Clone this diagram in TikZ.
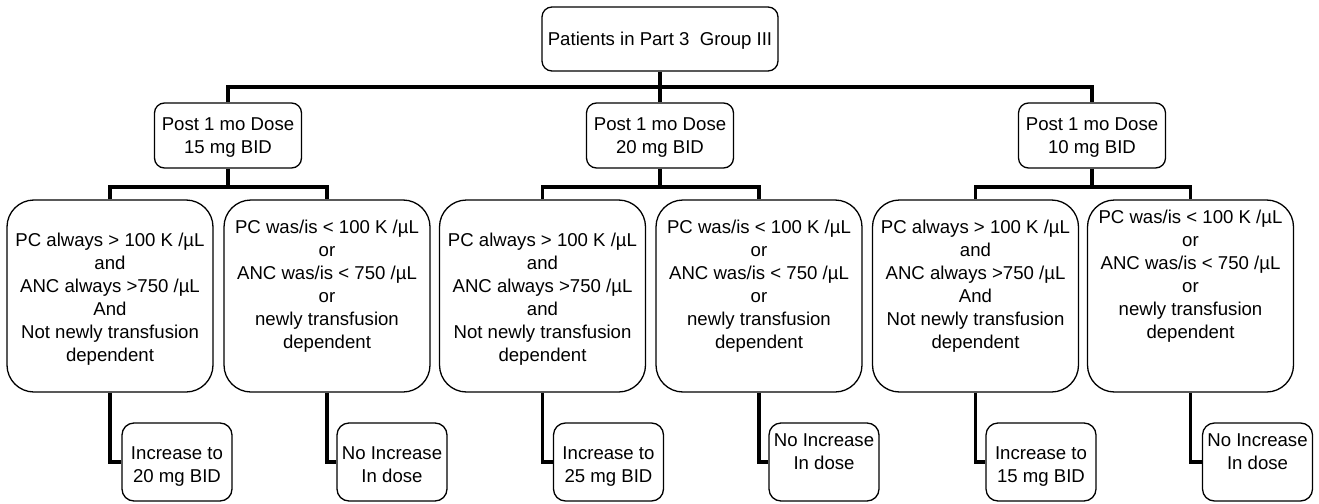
\documentclass[tikz,border=0pt]{standalone}
\usepackage{fontspec}
\setmainfont{Liberation Sans}
\begin{document}
\begin{tikzpicture}[x=1pt,y=-1pt,
  boxbase/.style={draw, line width=1.3pt, inner sep=0pt},
  topbox/.style={boxbase, rounded corners=10pt, minimum width=236pt, minimum height=64pt},
  dosebox/.style={boxbase, rounded corners=10pt, minimum width=147pt, minimum height=65pt},
  bigbox/.style={boxbase, rounded corners=27pt, minimum width=206pt, minimum height=192pt},
  smallbox/.style={boxbase, rounded corners=12pt, minimum width=110pt, minimum height=78pt},
  txt/.style={font=\fontsize{18.6}{23}\selectfont, align=center, inner sep=0pt, anchor=north},
  conn/.style={line width=3.5pt}]
\useasboundingbox (0,0) rectangle (1319,503);

% boxes
\node[topbox] (top) at (660,39) {};
\node[dosebox] (d1) at (228,135.5) {};
\node[dosebox] (d2) at (660,135.5) {};
\node[dosebox] (d3) at (1092,135.5) {};
\node[bigbox] (A) at (110,296) {};
\node[bigbox] (B) at (327,296) {};
\node[bigbox] (C) at (542.5,296) {};
\node[bigbox] (D) at (759,296) {};
\node[bigbox] (E) at (975.5,296) {};
\node[bigbox] (F) at (1190.5,296) {};
\node[smallbox] (b1) at (177,462) {};
\node[smallbox] (b2) at (392,462) {};
\node[smallbox] (b3) at (608.5,462) {};
\node[smallbox] (b4) at (824,462) {};
\node[smallbox] (b5) at (1041,462) {};
\node[smallbox] (b6) at (1257.5,462) {};

% texts
\node[txt] (ttop) at (660,32) {Patients in Part 3~~Group III};
\node[txt] (td1) at (228,118) {Post 1 mo Dose\\15 mg BID};
\node[txt] (td2) at (660,118) {Post 1 mo Dose\\20 mg BID};
\node[txt] (td3) at (1092,118) {Post 1 mo Dose\\10 mg BID};
\node[txt] (tA) at (110,233) {PC always > 100 K /µL\\and\\ANC always >750 /µL\\And\\Not newly transfusion\\dependent};
\node[txt] (tB) at (327,220) {PC was/is < 100 K /µL\\or\\ANC was/is < 750 /µL\\or\\newly transfusion\\dependent};
\node[txt] (tC) at (542.5,233) {PC always > 100 K /µL\\and\\ANC always >750 /µL\\and\\Not newly transfusion\\dependent};
\node[txt] (tD) at (759,220) {PC was/is < 100 K /µL\\or\\ANC was/is < 750 /µL\\or\\newly transfusion\\dependent};
\node[txt] (tE) at (975.5,220) {PC always > 100 K /µL\\and\\ANC always >750 /µL\\And\\Not newly transfusion\\dependent};
\node[txt] (tF) at (1190.5,210) {PC was/is < 100 K /µL\\or\\ANC was/is < 750 /µL\\or\\newly transfusion\\dependent};
\node[txt] (tb1) at (177,446) {Increase to\\20 mg BID};
\node[txt] (tb2) at (392,446) {No Increase\\In dose};
\node[txt] (tb3) at (608.5,446) {Increase to\\25 mg BID};
\node[txt] (tb4) at (824,433) {No Increase\\In dose};
\node[txt] (tb5) at (1041,446) {Increase to\\15 mg BID};
\node[txt] (tb6) at (1257.5,433) {No Increase\\In dose};

% connectors
\coordinate (j0) at (660,87);
\coordinate (j1) at (228,187);
\coordinate (j2) at (660,187);
\coordinate (j3) at (1092,187);
\draw[conn] (top.south) -- (j0);
\draw[conn] (d1.north) |- (j0) -| (d3.north);
\draw[conn] (d2.north) -- (j0);
\draw[conn] (d1.south) -- (j1);
\draw[conn] (A.north) |- (j1) -| (B.north);
\draw[conn] (d2.south) -- (j2);
\draw[conn] (C.north) |- (j2) -| (D.north);
\draw[conn] (d3.south) -- (j3);
\draw[conn] (E.north) |- (j3) -| (F.north);
\draw[conn] (A.south) |- (b1.west);
\draw[conn] (B.south) |- (b2.west);
\draw[conn] (C.south) |- (b3.west);
\draw[conn] (D.south) |- (b4.west);
\draw[conn] (E.south) |- (b5.west);
\draw[conn] (F.south) |- (b6.west);
\end{tikzpicture}
\end{document}
